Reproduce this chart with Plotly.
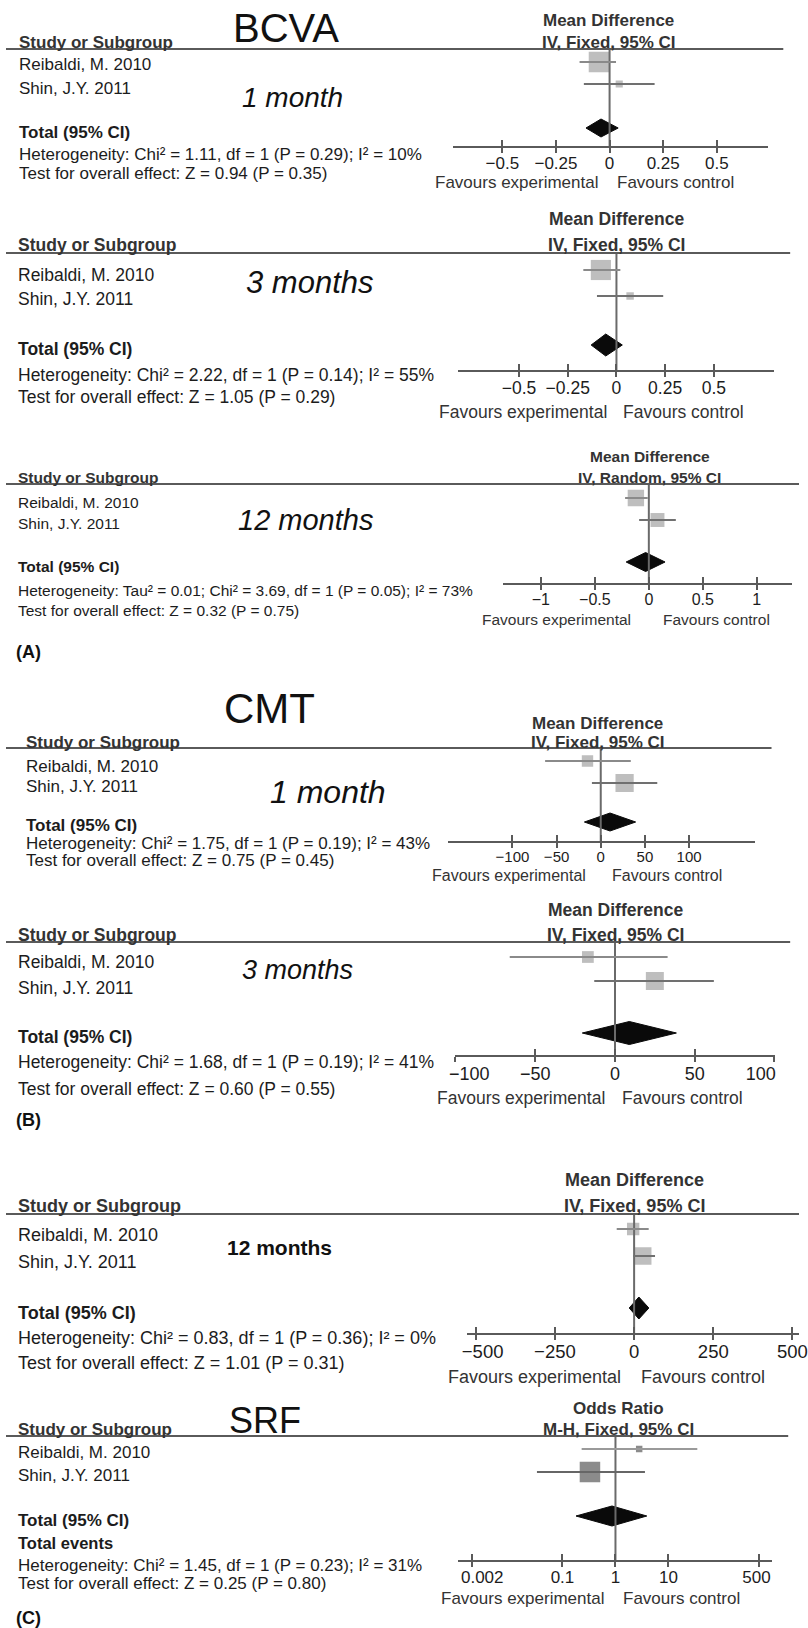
import math
import plotly.graph_objects as go

W, H = 808, 1628
FONT = "Liberation Sans, Arial, sans-serif"

# ---------------- data ----------------
panel_names = ["BCVA 1 month", "BCVA 3 months", "BCVA 12 months",
               "CMT 1 month", "CMT 3 months", "CMT 12 months", "SRF"]
study_names = ["Reibaldi, M. 2010", "Shin, J.Y. 2011"]

reibaldi_est = [-0.05, -0.08, -0.12, -15, -17, -3, 2.8]
reibaldi_lo = [-0.14, -0.17, -0.22, -63, -66, -55, 0.23]
reibaldi_hi = [0.03, 0.02, -0.01, 34, 33, 46, 35]
reibaldi_weight = [89, 88, 58, 28, 30, 33, 9]

shin_est = [0.045, 0.07, 0.08, 27, 25, 27, 0.33]
shin_lo = [-0.12, -0.10, -0.09, -10, -13, -3, 0.033]
shin_hi = [0.21, 0.24, 0.25, 64, 62, 66, 3.6]
shin_weight = [11, 12, 42, 72, 70, 67, 91]

total_est = [-0.04, -0.055, -0.03, 10.5, 9, 15, 0.86]
total_lo = [-0.11, -0.13, -0.21, -18.5, -20.5, -15.5, 0.18]
total_hi = [0.04, 0.03, 0.15, 39.5, 38.5, 46.5, 3.9]

null_value = [0, 0, 0, 0, 0, 0, 1]
axis_type = ["linear"] * 6 + ["log"]

tick_vals = [
    [-0.5, -0.25, 0, 0.25, 0.5],
    [-0.5, -0.25, 0, 0.25, 0.5],
    [-1, -0.5, 0, 0.5, 1],
    [-100, -50, 0, 50, 100],
    [-100, -50, 0, 50, 100],
    [-500, -250, 0, 250, 500],
    [0.002, 0.1, 1, 10, 500],
]
tick_text = [
    ["\u22120.5", "\u22120.25", "0", "0.25", "0.5"],
    ["\u22120.5", "\u22120.25", "0", "0.25", "0.5"],
    ["\u22121", "\u22120.5", "0", "0.5", "1"],
    ["\u2212100", "\u221250", "0", "50", "100"],
    ["\u2212100", "\u221250", "0", "50", "100"],
    ["\u2212500", "\u2212250", "0", "250", "500"],
    ["0.002", "0.1", "1", "10", "500"],
]

measure = ["Mean Difference"] * 6 + ["Odds Ratio"]
method = ["IV, Fixed, 95% CI", "IV, Fixed, 95% CI", "IV, Random, 95% CI",
          "IV, Fixed, 95% CI", "IV, Fixed, 95% CI", "IV, Fixed, 95% CI",
          "M-H, Fixed, 95% CI"]
heterogeneity = [
    "Heterogeneity: Chi\u00b2 = 1.11, df = 1 (P = 0.29); I\u00b2 = 10%",
    "Heterogeneity: Chi\u00b2 = 2.22, df = 1 (P = 0.14); I\u00b2 = 55%",
    "Heterogeneity: Tau\u00b2 = 0.01; Chi\u00b2 = 3.69, df = 1 (P = 0.05); I\u00b2 = 73%",
    "Heterogeneity: Chi\u00b2 = 1.75, df = 1 (P = 0.19); I\u00b2 = 43%",
    "Heterogeneity: Chi\u00b2 = 1.68, df = 1 (P = 0.19); I\u00b2 = 41%",
    "Heterogeneity: Chi\u00b2 = 0.83, df = 1 (P = 0.36); I\u00b2 = 0%",
    "Heterogeneity: Chi\u00b2 = 1.45, df = 1 (P = 0.23); I\u00b2 = 31%",
]
overall = [
    "Test for overall effect: Z = 0.94 (P = 0.35)",
    "Test for overall effect: Z = 1.05 (P = 0.29)",
    "Test for overall effect: Z = 0.32 (P = 0.75)",
    "Test for overall effect: Z = 0.75 (P = 0.45)",
    "Test for overall effect: Z = 0.60 (P = 0.55)",
    "Test for overall effect: Z = 1.01 (P = 0.31)",
    "Test for overall effect: Z = 0.25 (P = 0.80)",
]
time_labels = ["1 month", "3 months", "12 months", "1 month", "3 months", "12 months", ""]
outcome_titles = ["BCVA", "CMT", "SRF"]
section_labels = ["(A)", "(B)", "(C)"]

# ---------------- layout geometry (pixels) ----------------
GEOM = [
    dict(head=49, axis=146, rows=(62, 84, 128), x0=455, x1=776, zero=615, ppu=218.5, line_end=792,
         mean_y=20, meth_y=42, mcx=614, left=11, txt=(65, 88, 132), het=154, test=174, fav_y=182,
         fav_x=(520, 682), time=(292, 97, 28, False), fs=17, ffs=17, tfs=17, dh=9,
         lshift=(0, 0, 0, 0, 0)),
    dict(head=253, axis=370, rows=(270, 296, 345), x0=461, x1=783, zero=622, ppu=198.5, line_end=799,
         mean_y=219, meth_y=245, mcx=622, left=10, txt=(275, 299, 349), het=375, test=397, fav_y=412,
         fav_x=(527, 690), time=(310, 282, 31, False), fs=17.5, ffs=17.5, tfs=17.5, dh=11,
         lshift=(0, 0, 0, 0, 0)),
    dict(head=484, axis=583, rows=(498, 520, 562), x0=506, x1=801, zero=655, ppu=110, line_end=808,
         mean_y=456, meth_y=477, mcx=656, left=10, txt=(502, 524, 567), het=591, test=610, fav_y=619,
         fav_x=(561, 724), time=(305, 520, 29, False), fs=15.5, ffs=15.5, tfs=16, dh=9.5,
         lshift=(0, 0, 0, 0, 0)),
    dict(head=748, axis=841, rows=(761, 783, 822), x0=450, x1=763, zero=606, ppu=0.9, line_end=780,
         mean_y=723, meth_y=742, mcx=603, left=18, txt=(766, 786, 825), het=843, test=861, fav_y=876,
         fav_x=(513, 673), time=(328, 792, 32, False), fs=17, ffs=16, tfs=15, dh=9,
         lshift=(0, 0, 0, 0, 0)),
    dict(head=942, axis=1055, rows=(957, 981, 1033), x0=457.5, x1=783.5, zero=620.5, ppu=1.625, line_end=799,
         mean_y=910, meth_y=935, mcx=621, left=10, txt=(962, 988, 1037), het=1062, test=1089, fav_y=1098,
         fav_x=(525, 689), time=(297, 970, 27, False), fs=17.5, ffs=17.5, tfs=18, dh=11.5,
         lshift=(14, 0, 0, 0, -14)),
    dict(head=1214, axis=1333, rows=(1229, 1256, 1308), x0=470, x1=808, zero=640, ppu=0.3227, line_end=808,
         mean_y=1180, meth_y=1206, mcx=640, left=10, txt=(1235, 1262, 1313), het=1338, test=1363, fav_y=1377,
         fav_x=(539, 710), time=(279, 1247, 21, True), fs=18, ffs=18, tfs=18.5, dh=11,
         lshift=(7, 0, 0, 0, 0)),
    dict(head=1436, axis=1560, rows=(1449, 1472, 1516), x0=461, x1=780, zero=621, ppu=54, line_end=797,
         mean_y=1408, meth_y=1429, mcx=624, left=10, txt=(1452, 1475, 1520), het=1565, test=1583, fav_y=1598,
         fav_x=(526, 688), time=None, fs=17, ffs=17, tfs=17, dh=10, events_y=1543,
         lshift=(10, 0, 0, 0, -2)),
]
TITLE_POS = [(285, 28, 40), (268, 708, 42), (264, 1420, 36)]
SECTION_Y = [652, 1120, 1618]

SQ_COLOR = ["#a3a3a3"] * 6 + ["#5a5a5a"]
CI_COLOR_R = ["#8a8a8a"] * 6 + ["#9a9a9a"]
CI_COLOR_S = ["#707070"] * 6 + ["#666666"]

TEXT = "#1c1c1c"
LINE = "#5a5a5a"

fig = go.Figure()
annotations = []
shapes = []


def px(x):
    return x / W


def py(y):
    return 1 - y / H


def add_text(x, y, s, size, anchor="left", color=TEXT):
    annotations.append(dict(x=px(x), y=py(y), xref="paper", yref="paper", text=s,
                            showarrow=False, xanchor=anchor, yanchor="middle",
                            font=dict(family=FONT, size=size, color=color)))


layout_axes = {}
for i in range(7):
    g = GEOM[i]
    n = i + 1
    xa = "x" if n == 1 else f"x{n}"
    ya = "y" if n == 1 else f"y{n}"
    xkey = "xaxis" if n == 1 else f"xaxis{n}"
    ykey = "yaxis" if n == 1 else f"yaxis{n}"
    xov = f"x{i + 8}"      # upward tick marks
    xlb = f"x{i + 15}"     # tick labels

    if axis_type[i] == "log":
        ref = math.log10(null_value[i])
        rng = [ref + (g["x0"] - g["zero"]) / g["ppu"], ref + (g["x1"] - g["zero"]) / g["ppu"]]
        label_pos = [10 ** (math.log10(v) + s / g["ppu"]) for v, s in zip(tick_vals[i], g["lshift"])]
    else:
        rng = [(g["x0"] - g["zero"]) / g["ppu"], (g["x1"] - g["zero"]) / g["ppu"]]
        label_pos = [v + s / g["ppu"] for v, s in zip(tick_vals[i], g["lshift"])]

    dom = [px(g["x0"]), px(g["x1"])]
    common = dict(domain=dom, range=rng, type=axis_type[i], anchor=ya, autorange=False,
                  showgrid=False, zeroline=False, fixedrange=True, tickmode="array")
    # axis line + downward tick marks
    layout_axes[xkey] = dict(common, showline=True, linecolor=LINE, linewidth=2,
                             ticks="outside", ticklen=5, tickwidth=2, tickcolor=LINE,
                             tickvals=tick_vals[i], showticklabels=False)
    # upward tick marks (ticks cross the axis line)
    layout_axes[f"xaxis{i + 8}"] = dict(common, overlaying=xa, side="bottom",
                                        ticks="inside", ticklen=6, tickwidth=2, tickcolor=LINE,
                                        tickvals=tick_vals[i], showticklabels=False, showline=False)
    # tick labels (end labels pulled inward as in the original)
    layout_axes[f"xaxis{i + 15}"] = dict(common, overlaying=xa, side="bottom",
                                         ticks="outside", ticklen=2, tickwidth=0,
                                         tickcolor="rgba(0,0,0,0)",
                                         tickvals=label_pos, ticktext=tick_text[i], showline=False,
                                         tickfont=dict(family=FONT, size=g["tfs"], color=TEXT),
                                         ticklabeloverflow="allow")
    layout_axes[ykey] = dict(domain=[py(g["axis"]), py(g["head"])], range=[g["axis"], g["head"]],
                             autorange=False, visible=False, fixedrange=True)

    r1, r2, rt = g["rows"]
    nv = null_value[i]
    # null (no effect) line
    fig.add_trace(go.Scatter(x=[nv, nv], y=[g["head"], g["axis"]], mode="lines",
                             line=dict(color="#6a6a6a", width=2), xaxis=xov, yaxis=ya,
                             hoverinfo="skip", showlegend=False))
    # confidence intervals
    fig.add_trace(go.Scatter(x=[reibaldi_lo[i], reibaldi_hi[i]], y=[r1, r1], mode="lines",
                             line=dict(color=CI_COLOR_R[i], width=2), xaxis=xlb, yaxis=ya,
                             showlegend=False, name=study_names[0]))
    fig.add_trace(go.Scatter(x=[shin_lo[i], shin_hi[i]], y=[r2, r2], mode="lines",
                             line=dict(color=CI_COLOR_S[i], width=2), xaxis=xlb, yaxis=ya,
                             showlegend=False, name=study_names[1]))
    # study point estimates (size ~ sqrt(weight))
    fig.add_trace(go.Scatter(x=[reibaldi_est[i], shin_est[i]], y=[r1, r2], mode="markers",
                             marker=dict(symbol="square", color=SQ_COLOR[i],
                                         size=[2.15 * math.sqrt(reibaldi_weight[i]),
                                               2.15 * math.sqrt(shin_weight[i])],
                                         line=dict(width=0)),
                             xaxis=xa, yaxis=ya, showlegend=False, name=panel_names[i]))
    # pooled diamond
    dh = g["dh"]
    fig.add_trace(go.Scatter(x=[total_lo[i], total_est[i], total_hi[i], total_est[i], total_lo[i]],
                             y=[rt, rt - dh, rt, rt + dh, rt], mode="lines", fill="toself",
                             fillcolor="#0a0a0a", line=dict(color="#0a0a0a", width=1),
                             xaxis=xa, yaxis=ya, showlegend=False, name="Total (95% CI)"))

    # header line
    shapes.append(dict(type="line", xref="paper", yref="paper", x0=0, x1=px(g["line_end"]),
                       y0=py(g["head"]), y1=py(g["head"]), line=dict(color=LINE, width=2)))

    fs = g["fs"]
    lx = g["left"]
    add_text(g["mcx"], g["mean_y"], f"<b>{measure[i]}</b>", fs, anchor="center", color="#333333")
    add_text(g["mcx"], g["meth_y"], f"<b>{method[i]}</b>", fs, anchor="center", color="#333333")
    add_text(lx, g["meth_y"], "<b>Study or Subgroup</b>", fs, color="#333333")
    add_text(lx, g["txt"][0], study_names[0], fs)
    add_text(lx, g["txt"][1], study_names[1], fs)
    add_text(lx, g["txt"][2], "<b>Total (95% CI)</b>", fs)
    if "events_y" in g:
        add_text(lx, g["events_y"], "<b>Total events</b>", fs - 0.5)
    add_text(lx, g["het"], heterogeneity[i], fs)
    add_text(lx, g["test"], overall[i], fs)
    add_text(g["fav_x"][0], g["fav_y"], "Favours experimental", g["ffs"], anchor="center", color="#333333")
    add_text(g["fav_x"][1], g["fav_y"], "Favours control", g["ffs"], anchor="center", color="#333333")
    if g["time"] and time_labels[i]:
        tx, ty, tsz, tb = g["time"]
        s = f"<b>{time_labels[i]}</b>" if tb else f"<i>{time_labels[i]}</i>"
        add_text(tx, ty, s, tsz, anchor="center", color="#111111")

for (tx, ty, tsz), t in zip(TITLE_POS, outcome_titles):
    add_text(tx, ty, t, tsz, anchor="center", color="#111111")
for sy, lab in zip(SECTION_Y, section_labels):
    add_text(8, sy, f"<b>{lab}</b>", 18, color="#111111")

fig.update_layout(width=W, height=H, margin=dict(l=0, r=0, t=0, b=0),
                  paper_bgcolor="white", plot_bgcolor="rgba(0,0,0,0)",
                  showlegend=False, annotations=annotations, shapes=shapes,
                  font=dict(family=FONT), **layout_axes)

fig.write_html("out.html")
